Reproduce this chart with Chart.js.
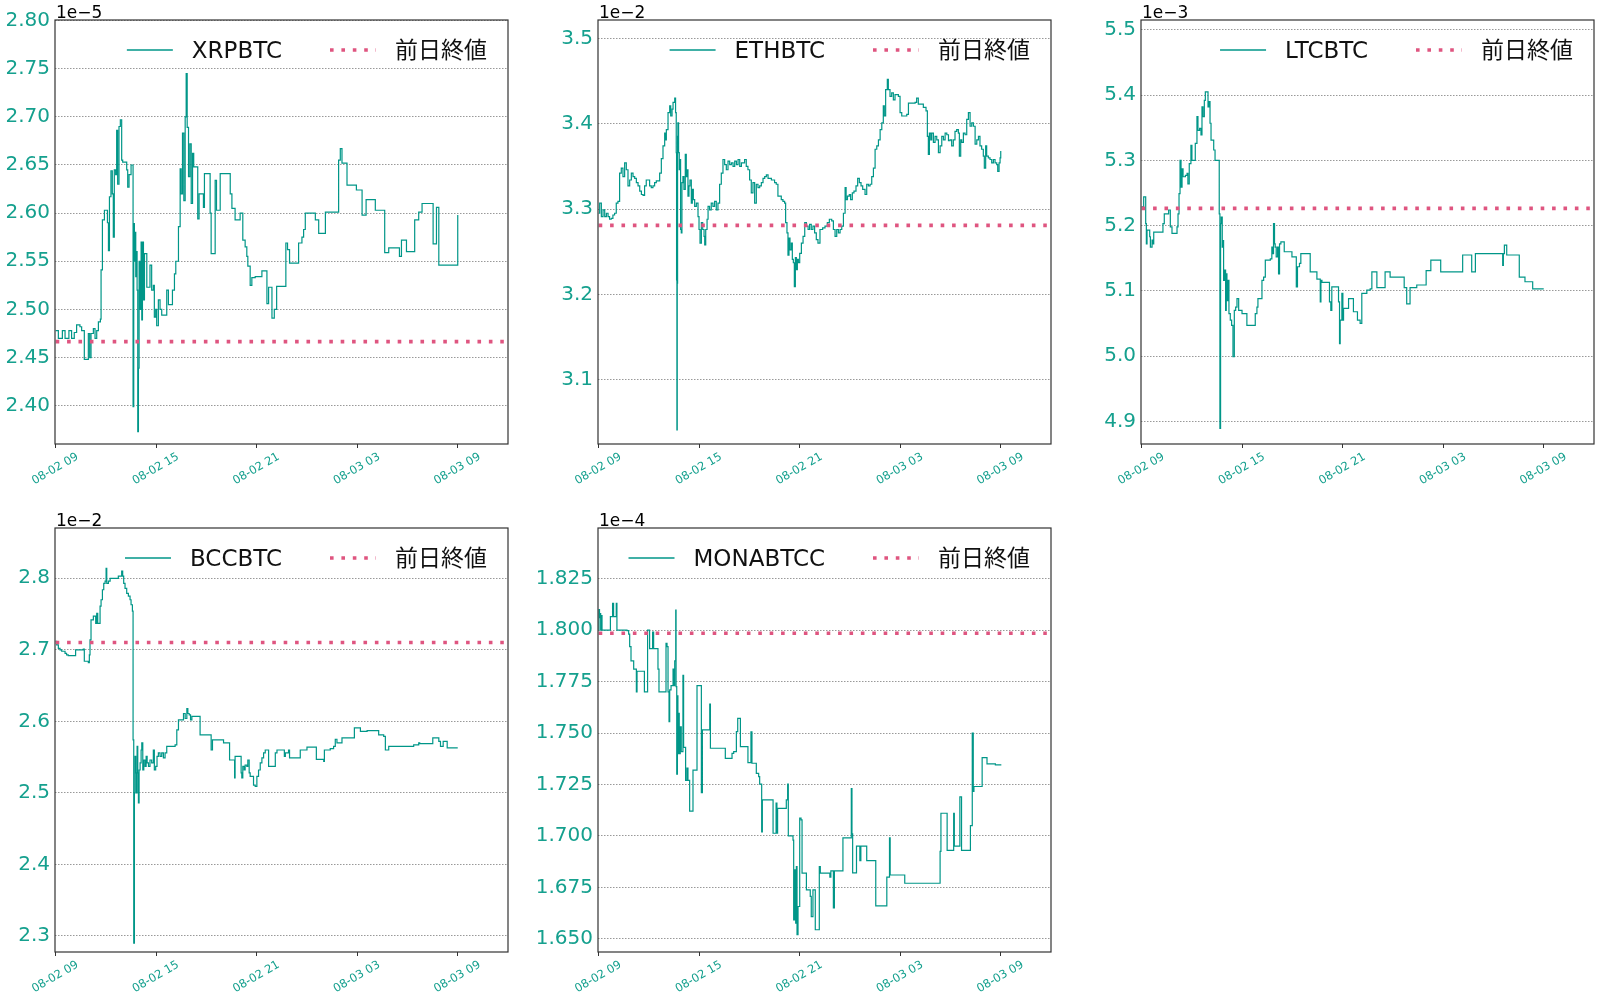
<!DOCTYPE html>
<html>
<head>
<meta charset="utf-8">
<script src="https://cdn.jsdelivr.net/npm/chart.js@4.4.1/dist/chart.umd.min.js"></script>
<style>
  html, body { margin: 0; padding: 0; background: #fff; }
  #fig { position: relative; width: 1600px; height: 999px; overflow: hidden; }
  #fig canvas { position: absolute; }
</style>
</head>
<body>
<div id="fig"></div>
<script>
// x values are hours since 08-02 09:00
const tickHours = [0, 6, 12, 18, 24];
const tickLabels = ['08-02 09', '08-02 15', '08-02 21', '08-03 03', '08-03 09'];

// XRPBTC (x1e-5)
const xrpHours = [
  0.00, 0.16, 0.40, 0.56, 0.79, 0.95, 1.11, 1.25, 1.45, 1.55,
  1.71, 1.95, 2.03, 2.11, 2.25, 2.35, 2.45, 2.55, 2.67, 2.71,
  2.79, 2.91, 3.09, 3.15, 3.21, 3.30, 3.38, 3.44, 3.50, 3.58,
  3.64, 3.70, 3.78, 3.86, 3.94, 4.00, 4.24, 4.30, 4.38, 4.50,
  4.62, 4.66, 4.70, 4.74, 4.78, 4.82, 4.86, 4.90, 4.94, 4.98,
  5.04, 5.10, 5.14, 5.18, 5.24, 5.30, 5.44, 5.63, 5.73, 5.83,
  5.89, 5.97, 6.03, 6.13, 6.23, 6.33, 6.63, 6.73, 6.97, 7.09,
  7.17, 7.33, 7.43, 7.49, 7.57, 7.65, 7.73, 7.79, 7.85, 7.93,
  8.01, 8.09, 8.17, 8.24, 8.48, 8.56, 8.82, 8.88, 9.22, 9.28,
  9.52, 9.60, 9.82, 10.42, 10.52, 10.71, 11.01, 11.17, 11.31, 11.41,
  11.47, 11.61, 11.71, 11.91, 12.31, 12.61, 12.71, 12.91, 13.05, 13.19,
  13.74, 13.84, 13.96, 14.50, 14.70, 14.80, 14.90, 15.50, 15.70, 16.10,
  16.89, 16.99, 17.09, 17.39, 17.95, 18.29, 18.53, 19.08, 19.64, 19.88,
  20.52, 20.64, 20.94, 21.43, 21.67, 21.87, 22.53, 22.73, 22.87, 24.00
];
const xrpPrice = [
  2.478, 2.470, 2.478, 2.470, 2.478, 2.470, 2.476, 2.484, 2.482, 2.478,
  2.448, 2.475, 2.450, 2.475, 2.480, 2.470, 2.478, 2.487, 2.490, 2.541,
  2.593, 2.603, 2.590, 2.561, 2.617, 2.644, 2.620, 2.575, 2.645, 2.640,
  2.686, 2.630, 2.690, 2.697, 2.655, 2.653, 2.645, 2.627, 2.640, 2.650,
  2.399, 2.589, 2.550, 2.580, 2.534, 2.560, 2.520, 2.373, 2.439, 2.550,
  2.500, 2.570, 2.489, 2.570, 2.510, 2.558, 2.523, 2.546, 2.520, 2.525,
  2.492, 2.500, 2.483, 2.510, 2.500, 2.494, 2.520, 2.505, 2.520, 2.537,
  2.550, 2.586, 2.646, 2.620, 2.683, 2.613, 2.700, 2.745, 2.689, 2.638,
  2.672, 2.610, 2.662, 2.648, 2.594, 2.620, 2.606, 2.641, 2.600, 2.558,
  2.634, 2.603, 2.641, 2.620, 2.605, 2.593, 2.600, 2.572, 2.565, 2.555,
  2.545, 2.525, 2.533, 2.534, 2.540, 2.506, 2.523, 2.491, 2.500, 2.524,
  2.569, 2.562, 2.548, 2.569, 2.575, 2.583, 2.600, 2.593, 2.579, 2.601,
  2.655, 2.667, 2.652, 2.629, 2.624, 2.598, 2.614, 2.603, 2.559, 2.564,
  2.555, 2.572, 2.560, 2.593, 2.601, 2.610, 2.568, 2.606, 2.546, 2.598
];
const xrpPrev = 2.4665;
const xrpTicks = [2.40, 2.45, 2.50, 2.55, 2.60, 2.65, 2.70, 2.75, 2.80];

// ETHBTC (x1e-2)
const ethHours = [
  0.00, 0.06, 0.16, 0.26, 0.36, 0.46, 0.56, 0.65, 0.75, 0.85,
  0.95, 1.05, 1.15, 1.25, 1.35, 1.45, 1.55, 1.65, 1.75, 1.85,
  1.95, 2.05, 2.15, 2.25, 2.35, 2.45, 2.55, 2.65, 2.74, 2.84,
  3.04, 3.14, 3.24, 3.34, 3.44, 3.64, 3.74, 3.84, 3.94, 4.00,
  4.04, 4.14, 4.24, 4.30, 4.38, 4.44, 4.54, 4.59, 4.63, 4.65,
  4.67, 4.69, 4.71, 4.73, 4.77, 4.81, 4.85, 4.89, 4.93, 4.97,
  5.03, 5.09, 5.17, 5.23, 5.29, 5.33, 5.39, 5.45, 5.53, 5.59,
  5.65, 5.73, 5.83, 5.93, 5.99, 6.05, 6.13, 6.21, 6.29, 6.33,
  6.39, 6.47, 6.53, 6.62, 6.72, 6.82, 6.92, 7.02, 7.12, 7.22,
  7.32, 7.42, 7.52, 7.62, 7.72, 7.82, 7.92, 8.02, 8.12, 8.22,
  8.32, 8.42, 8.52, 8.71, 8.81, 8.91, 9.01, 9.11, 9.21, 9.31,
  9.41, 9.51, 9.61, 9.71, 9.81, 9.91, 10.01, 10.11, 10.31, 10.50,
  10.60, 10.70, 10.90, 11.00, 11.10, 11.16, 11.24, 11.30, 11.36, 11.42,
  11.50, 11.56, 11.62, 11.68, 11.74, 11.80, 11.86, 11.92, 12.00, 12.10,
  12.20, 12.30, 12.40, 12.50, 12.59, 12.69, 12.79, 12.89, 12.99, 13.09,
  13.21, 13.37, 13.51, 13.65, 13.77, 13.91, 14.01, 14.11, 14.21, 14.31,
  14.41, 14.51, 14.61, 14.71, 14.77, 14.85, 14.96, 15.04, 15.14, 15.24,
  15.36, 15.46, 15.56, 15.66, 15.76, 15.90, 16.00, 16.10, 16.20, 16.30,
  16.40, 16.50, 16.60, 16.70, 16.80, 16.90, 16.99, 17.05, 17.13, 17.23,
  17.29, 17.39, 17.49, 17.59, 17.69, 17.89, 17.99, 18.09, 18.39, 18.49,
  18.89, 18.98, 19.08, 19.38, 19.54, 19.62, 19.68, 19.74, 19.82, 19.88,
  19.98, 20.08, 20.18, 20.28, 20.38, 20.48, 20.58, 20.68, 20.78, 20.88,
  20.97, 21.07, 21.17, 21.27, 21.37, 21.47, 21.53, 21.61, 21.67, 21.77,
  21.87, 21.97, 22.07, 22.17, 22.27, 22.37, 22.47, 22.57, 22.67, 22.76,
  22.86, 22.96, 23.02, 23.10, 23.16, 23.26, 23.36, 23.46, 23.56, 23.66,
  23.76, 23.82, 23.90, 23.96, 24.00
];
const ethPrice = [
  3.295, 3.307, 3.291, 3.299, 3.291, 3.295, 3.291, 3.288, 3.289, 3.293,
  3.295, 3.307, 3.309, 3.342, 3.348, 3.338, 3.354, 3.346, 3.327, 3.334,
  3.342, 3.338, 3.336, 3.331, 3.327, 3.321, 3.317, 3.316, 3.327, 3.334,
  3.327, 3.325, 3.327, 3.331, 3.333, 3.342, 3.359, 3.374, 3.389, 3.381,
  3.393, 3.413, 3.421, 3.409, 3.417, 3.425, 3.430, 3.413, 3.366, 3.217,
  3.041, 3.213, 3.385, 3.401, 3.366, 3.346, 3.358, 3.276, 3.272, 3.331,
  3.338, 3.323, 3.364, 3.338, 3.346, 3.315, 3.327, 3.334, 3.307, 3.323,
  3.311, 3.303, 3.307, 3.291, 3.276, 3.260, 3.284, 3.276, 3.268, 3.258,
  3.276, 3.288, 3.303, 3.299, 3.307, 3.303, 3.309, 3.299, 3.307, 3.329,
  3.342, 3.358, 3.352, 3.346, 3.356, 3.352, 3.354, 3.350, 3.356, 3.352,
  3.358, 3.350, 3.354, 3.358, 3.350, 3.346, 3.334, 3.319, 3.331, 3.307,
  3.329, 3.325, 3.327, 3.331, 3.336, 3.338, 3.340, 3.336, 3.334, 3.331,
  3.329, 3.315, 3.311, 3.309, 3.307, 3.284, 3.272, 3.246, 3.266, 3.252,
  3.260, 3.241, 3.237, 3.209, 3.243, 3.229, 3.241, 3.237, 3.248, 3.260,
  3.268, 3.284, 3.280, 3.276, 3.282, 3.276, 3.280, 3.272, 3.264, 3.260,
  3.276, 3.278, 3.280, 3.284, 3.288, 3.286, 3.276, 3.268, 3.276, 3.272,
  3.276, 3.280, 3.295, 3.325, 3.311, 3.315, 3.317, 3.311, 3.319, 3.321,
  3.327, 3.336, 3.331, 3.327, 3.323, 3.317, 3.329, 3.327, 3.329, 3.338,
  3.348, 3.370, 3.374, 3.381, 3.393, 3.401, 3.421, 3.409, 3.440, 3.452,
  3.440, 3.432, 3.436, 3.428, 3.434, 3.432, 3.413, 3.409, 3.411, 3.424,
  3.425, 3.430, 3.423, 3.419, 3.415, 3.385, 3.364, 3.389, 3.381, 3.389,
  3.378, 3.385, 3.381, 3.366, 3.374, 3.385, 3.381, 3.389, 3.387, 3.380,
  3.381, 3.374, 3.381, 3.391, 3.393, 3.389, 3.362, 3.381, 3.378, 3.389,
  3.387, 3.405, 3.413, 3.397, 3.401, 3.397, 3.376, 3.381, 3.385, 3.374,
  3.370, 3.362, 3.348, 3.374, 3.362, 3.360, 3.358, 3.354, 3.358, 3.354,
  3.352, 3.344, 3.354, 3.360, 3.368
];
const ethPrev = 3.2808;
const ethTicks = [3.1, 3.2, 3.3, 3.4, 3.5];

// LTCBTC (x1e-3)
const ltcHours = [
  0.00, 0.12, 0.24, 0.28, 0.32, 0.48, 0.52, 0.62, 0.68, 0.72,
  1.27, 1.35, 1.61, 1.71, 1.81, 2.11, 2.17, 2.23, 2.29, 2.35,
  2.41, 2.47, 2.61, 2.71, 2.76, 2.84, 2.94, 3.00, 3.20, 3.30,
  3.36, 3.46, 3.54, 3.60, 3.66, 3.74, 3.80, 3.96, 4.02, 4.08,
  4.14, 4.30, 4.38, 4.63, 4.67, 4.71, 4.75, 4.81, 4.85, 4.89,
  4.95, 5.01, 5.05, 5.09, 5.15, 5.21, 5.29, 5.37, 5.45, 5.53,
  5.61, 5.69, 5.79, 5.99, 6.28, 6.78, 6.88, 6.94, 7.18, 7.28,
  7.38, 7.68, 7.77, 7.83, 7.87, 7.93, 7.97, 8.03, 8.11, 8.17,
  8.23, 8.31, 8.51, 8.97, 9.23, 9.30, 9.42, 9.50, 10.06, 10.46,
  10.66, 10.70, 10.76, 11.21, 11.29, 11.35, 11.75, 11.81, 11.85, 11.95,
  12.01, 12.05, 12.35, 12.64, 12.88, 13.04, 13.14, 13.44, 13.64, 13.74,
  14.04, 14.53, 14.83, 15.67, 15.82, 16.02, 16.42, 16.98, 17.26, 17.85,
  19.16, 19.70, 19.92, 21.55, 21.59, 21.65, 21.79, 22.54, 22.88, 23.34,
  24.00
];
const ltcPrice = [
  5.229, 5.244, 5.203, 5.172, 5.193, 5.183, 5.167, 5.178, 5.172, 5.190,
  5.203, 5.218, 5.224, 5.198, 5.188, 5.198, 5.218, 5.249, 5.300, 5.259,
  5.287, 5.275, 5.277, 5.280, 5.264, 5.295, 5.323, 5.300, 5.326, 5.367,
  5.346, 5.349, 5.339, 5.382, 5.367, 5.392, 5.405, 5.382, 5.390, 5.357,
  5.331, 5.316, 5.300, 5.218, 4.889, 5.203, 5.213, 5.167, 5.177, 5.116,
  5.132, 5.070, 5.126, 5.085, 5.116, 5.065, 5.055, 5.047, 4.999, 5.070,
  5.075, 5.088, 5.070, 5.065, 5.047, 5.065, 5.075, 5.088, 5.116, 5.121,
  5.147, 5.149, 5.167, 5.157, 5.203, 5.172, 5.167, 5.152, 5.167, 5.126,
  5.172, 5.175, 5.160, 5.152, 5.106, 5.137, 5.142, 5.157, 5.129, 5.118,
  5.083, 5.116, 5.113, 5.083, 5.070, 5.106, 5.083, 5.019, 5.055, 5.096,
  5.055, 5.073, 5.088, 5.068, 5.055, 5.050, 5.096, 5.101, 5.103, 5.129,
  5.105, 5.129, 5.121, 5.105, 5.080, 5.105, 5.109, 5.131, 5.147, 5.129,
  5.155, 5.129, 5.157, 5.139, 5.157, 5.170, 5.155, 5.121, 5.114, 5.103,
  5.103
];
const ltcPrev = 5.2265;
const ltcTicks = [4.9, 5.0, 5.1, 5.2, 5.3, 5.4, 5.5];

// BCCBTC (x1e-2)
const bccHours = [
  0.00, 0.06, 0.16, 0.26, 0.36, 0.56, 0.65, 0.75, 1.19, 1.65,
  1.71, 1.95, 2.01, 2.05, 2.11, 2.25, 2.39, 2.45, 2.51, 2.65,
  2.71, 2.79, 2.87, 2.95, 3.01, 3.05, 3.15, 3.25, 3.74, 3.94,
  4.00, 4.06, 4.14, 4.24, 4.34, 4.44, 4.50, 4.58, 4.62, 4.66,
  4.70, 4.74, 4.78, 4.82, 4.86, 4.90, 4.94, 4.98, 5.04, 5.10,
  5.14, 5.20, 5.26, 5.34, 5.40, 5.46, 5.54, 5.63, 5.73, 5.83,
  5.89, 5.97, 6.05, 6.13, 6.23, 6.33, 6.43, 6.53, 6.63, 7.13,
  7.23, 7.33, 7.63, 7.73, 7.83, 7.89, 7.97, 8.05, 8.13, 8.62,
  9.28, 9.36, 10.02, 10.38, 10.68, 10.71, 11.07, 11.11, 11.17, 11.25,
  11.31, 11.41, 11.47, 11.55, 11.61, 11.81, 11.91, 12.01, 12.11, 12.21,
  12.31, 12.41, 12.51, 12.71, 13.11, 13.21, 13.65, 13.71, 13.90, 13.96,
  14.60, 15.00, 15.56, 16.00, 16.04, 16.39, 16.59, 16.69, 16.79, 17.09,
  17.83, 18.19, 18.59, 19.28, 19.58, 19.68, 19.88, 21.37, 21.67, 21.73,
  22.51, 22.87, 22.97, 23.13, 23.37, 24.00
];
const bccPrice = [
  2.712, 2.707, 2.702, 2.700, 2.698, 2.695, 2.693, 2.692, 2.700, 2.701,
  2.684, 2.682, 2.693, 2.714, 2.742, 2.747, 2.737, 2.751, 2.737, 2.761,
  2.770, 2.784, 2.793, 2.796, 2.814, 2.793, 2.796, 2.800, 2.803, 2.810,
  2.803, 2.793, 2.786, 2.779, 2.775, 2.770, 2.763, 2.754, 2.574, 2.290,
  2.500, 2.551, 2.528, 2.500, 2.565, 2.528, 2.486, 2.532, 2.542, 2.560,
  2.570, 2.532, 2.546, 2.537, 2.551, 2.542, 2.537, 2.546, 2.542, 2.560,
  2.532, 2.537, 2.551, 2.556, 2.551, 2.556, 2.549, 2.556, 2.565, 2.567,
  2.588, 2.602, 2.611, 2.604, 2.618, 2.611, 2.609, 2.602, 2.607, 2.581,
  2.560, 2.574, 2.570, 2.546, 2.521, 2.551, 2.528, 2.521, 2.537, 2.532,
  2.539, 2.537, 2.546, 2.528, 2.523, 2.511, 2.509, 2.523, 2.532, 2.542,
  2.549, 2.556, 2.560, 2.537, 2.556, 2.560, 2.551, 2.556, 2.560, 2.549,
  2.560, 2.564, 2.547, 2.544, 2.560, 2.562, 2.565, 2.575, 2.570, 2.577,
  2.591, 2.586, 2.587, 2.581, 2.579, 2.560, 2.565, 2.567, 2.570, 2.569,
  2.577, 2.572, 2.565, 2.572, 2.563, 2.563
];
const bccPrev = 2.7102;
const bccTicks = [2.3, 2.4, 2.5, 2.6, 2.7, 2.8];

// MONABTCC (x1e-4)
const monaHours = [
  0.00, 0.02, 0.05, 0.08, 0.12, 0.16, 0.20, 0.70, 0.83, 0.89,
  1.05, 1.09, 1.69, 1.79, 1.85, 1.93, 2.09, 2.25, 2.29, 2.73,
  2.92, 3.04, 3.22, 3.28, 3.54, 3.60, 4.02, 4.08, 4.14, 4.20,
  4.24, 4.32, 4.44, 4.48, 4.54, 4.60, 4.62, 4.66, 4.70, 4.73,
  4.77, 4.81, 4.87, 4.93, 5.03, 5.07, 5.19, 5.27, 5.33, 5.43,
  5.63, 5.87, 6.13, 6.19, 6.63, 6.67, 7.56, 7.96, 8.06, 8.22,
  8.30, 8.46, 8.91, 9.09, 9.15, 9.41, 9.55, 9.61, 9.73, 9.77,
  10.41, 10.59, 10.64, 10.68, 11.20, 11.28, 11.32, 11.60, 11.64, 11.70,
  11.76, 11.80, 11.84, 11.90, 12.00, 12.08, 12.14, 12.40, 12.63, 12.69,
  12.79, 12.93, 13.17, 13.23, 13.80, 13.86, 14.01, 14.07, 14.58, 15.08,
  15.12, 15.16, 15.39, 15.59, 15.65, 16.00, 16.54, 17.20, 17.36, 17.40,
  18.27, 20.38, 20.43, 20.80, 21.19, 21.23, 21.56, 21.66, 22.19, 22.30,
  22.36, 22.40, 22.89, 23.18, 23.68, 24.00
];
const monaPrice = [
  1.8000, 1.8100, 1.8060, 1.8080, 1.8000, 1.8070, 1.8000, 1.8065, 1.8130, 1.8065,
  1.8130, 1.8000, 1.7997, 1.7980, 1.7920, 1.7850, 1.7810, 1.7700, 1.7800, 1.7700,
  1.8000, 1.7910, 1.7990, 1.7910, 1.7810, 1.7700, 1.7935, 1.7920, 1.7700, 1.7555,
  1.7710, 1.7730, 1.7810, 1.7730, 1.7850, 1.8097, 1.7725, 1.7300, 1.7680, 1.7400,
  1.7595, 1.7400, 1.7530, 1.7410, 1.7780, 1.7430, 1.7270, 1.7330, 1.7270, 1.7120,
  1.7320, 1.7730, 1.7210, 1.7515, 1.7640, 1.7426, 1.7377, 1.7401, 1.7410, 1.7507,
  1.7571, 1.7434, 1.7356, 1.7506, 1.7353, 1.7304, 1.7288, 1.7252, 1.7020, 1.7175,
  1.7013, 1.7160, 1.7013, 1.7134, 1.7175, 1.7252, 1.7000, 1.6980, 1.6592, 1.6835,
  1.6576, 1.6851, 1.6520, 1.6657, 1.7086, 1.7078, 1.6819, 1.6738, 1.6706, 1.6608,
  1.6738, 1.6544, 1.6851, 1.6819, 1.6800, 1.6830, 1.6650, 1.6830, 1.6990, 1.7230,
  1.7010, 1.6820, 1.6950, 1.6880, 1.6950, 1.6880, 1.6660, 1.6800, 1.6990, 1.6810,
  1.6770, 1.6925, 1.7110, 1.6930, 1.7110, 1.6950, 1.7190, 1.6930, 1.7050, 1.7500,
  1.7216, 1.7240, 1.7380, 1.7350, 1.7345, 1.7342
];
const monaPrev = 1.7985;
const monaTicks = [1.650, 1.675, 1.700, 1.725, 1.750, 1.775, 1.800, 1.825];

const TEAL = '#009688';
const LABEL_TEAL = '#15a08e';
const PINK = '#df5580';
const FONT = '"DejaVu Sans", "Noto Sans CJK JP", sans-serif';

// frame, offset text ("1e-5") and the in-axes legend, matplotlib style
const framePlugin = {
  id: 'frame',
  afterDraw(chart, args, opts) {
    const { ctx, chartArea: a } = chart;
    ctx.save();
    ctx.strokeStyle = '#333';
    ctx.lineWidth = 1.2;
    ctx.strokeRect(a.left, a.top, a.right - a.left, a.bottom - a.top);

    ctx.fillStyle = '#000';
    ctx.font = '17px ' + FONT;
    ctx.textBaseline = 'alphabetic';
    ctx.fillText(opts.offsetText, a.left + 1, a.top - 2);

    // legend: right aligned inside the axes
    const items = [
      { label: opts.name, color: TEAL, width: 1.4, dash: [] },
      { label: '前日終値', color: PINK, width: 3.6, dash: [3.6, 7.8] }
    ];
    ctx.font = '23px ' + FONT;
    ctx.textBaseline = 'middle';
    const y = a.top + 32;
    let x = a.right - 21;
    for (let i = items.length - 1; i >= 0; i--) {
      const it = items[i];
      const tw = ctx.measureText(it.label).width;
      const tx = x - tw;
      ctx.fillStyle = '#111';
      ctx.fillText(it.label, tx, y);
      const hEnd = tx - 19, hStart = hEnd - 46;
      ctx.beginPath();
      ctx.strokeStyle = it.color;
      ctx.lineWidth = it.width;
      ctx.setLineDash(it.dash);
      ctx.lineCap = 'butt';
      ctx.moveTo(hStart, y - 2);
      ctx.lineTo(hEnd, y - 2);
      ctx.stroke();
      ctx.setLineDash([]);
      x = hStart - 48;
    }
    ctx.restore();
  }
};

function makePanel(p) {
  const padL = 60, padT = 22, padR = 14, padB = 52;
  const canvas = document.createElement('canvas');
  canvas.width = p.w + padL + padR;
  canvas.height = p.h + padT + padB;
  canvas.style.left = (p.left - padL) + 'px';
  canvas.style.top = (p.top - padT) + 'px';
  document.getElementById('fig').appendChild(canvas);

  const series = p.hours.map((h, i) => ({ x: h, y: p.price[i] }));

  new Chart(canvas, {
    type: 'line',
    data: {
      datasets: [
        {
          label: '前日終値',
          data: [{ x: 0, y: p.prev }, { x: 26.75, y: p.prev }],
          borderColor: PINK, borderWidth: 3.6, borderDash: [3.6, 7.8],
          borderCapStyle: 'butt', pointRadius: 0, order: 1
        },
        {
          label: p.name, data: series,
          borderColor: TEAL, borderWidth: 1.2, stepped: true,
          pointRadius: 0, order: 2
        }
      ]
    },
    options: {
      responsive: false,
      animation: false,
      events: [],
      layout: { padding: { left: 0, top: padT, right: padR, bottom: 0 } },
      plugins: {
        legend: { display: false },
        tooltip: { enabled: false },
        frame: { offsetText: p.offset, name: p.name }
      },
      scales: {
        x: {
          type: 'linear', min: -0.04, max: 27,
          afterBuildTicks: s => { s.ticks = tickHours.map(v => ({ value: v })); },
          afterFit: s => { s.height = padB; },
          ticks: {
            callback: v => tickLabels[tickHours.indexOf(v)],
            color: LABEL_TEAL, font: { family: FONT, size: 11.5 },
            minRotation: 30, maxRotation: 30, autoSkip: false,
            labelOffset: 22, padding: 2
          },
          grid: { drawOnChartArea: false, drawTicks: true, tickLength: 4, tickColor: '#333', tickWidth: 1 },
          border: { display: false }
        },
        y: {
          type: 'linear', min: p.min, max: p.max,
          afterBuildTicks: s => { s.ticks = p.ticks.map(v => ({ value: v })); },
          afterFit: s => { s.width = padL; },
          ticks: {
            callback: v => v.toFixed(p.dec),
            color: LABEL_TEAL, font: { family: FONT, size: 20 }, padding: 5
          },
          grid: { drawTicks: false, color: 'rgba(0,0,0,0.5)', lineWidth: 0.8 },
          border: { display: false, dash: [1.5, 1.5] }
        }
      }
    },
    plugins: [framePlugin]
  });
}

makePanel({ name: 'XRPBTC', hours: xrpHours, price: xrpPrice, prev: xrpPrev, ticks: xrpTicks, dec: 2,
  min: 2.3602, max: 2.8006, offset: '1e\u22125', left: 55, top: 20, w: 453, h: 424 });
makePanel({ name: 'ETHBTC', hours: ethHours, price: ethPrice, prev: ethPrev, ticks: ethTicks, dec: 1,
  min: 3.0246, max: 3.5215, offset: '1e\u22122', left: 598, top: 20, w: 453, h: 424 });
makePanel({ name: 'LTCBTC', hours: ltcHours, price: ltcPrice, prev: ltcPrev, ticks: ltcTicks, dec: 1,
  min: 4.8652, max: 5.5153, offset: '1e\u22123', left: 1141, top: 20, w: 453, h: 424 });
makePanel({ name: 'BCCBTC', hours: bccHours, price: bccPrice, prev: bccPrev, ticks: bccTicks, dec: 1,
  min: 2.2776, max: 2.8703, offset: '1e\u22122', left: 55, top: 528, w: 453, h: 424 });
makePanel({ name: 'MONABTCC', hours: monaHours, price: monaPrice, prev: monaPrev, ticks: monaTicks, dec: 3,
  min: 1.6436, max: 1.8496, offset: '1e\u22124', left: 598, top: 528, w: 453, h: 424 });
</script>
</body>
</html>
